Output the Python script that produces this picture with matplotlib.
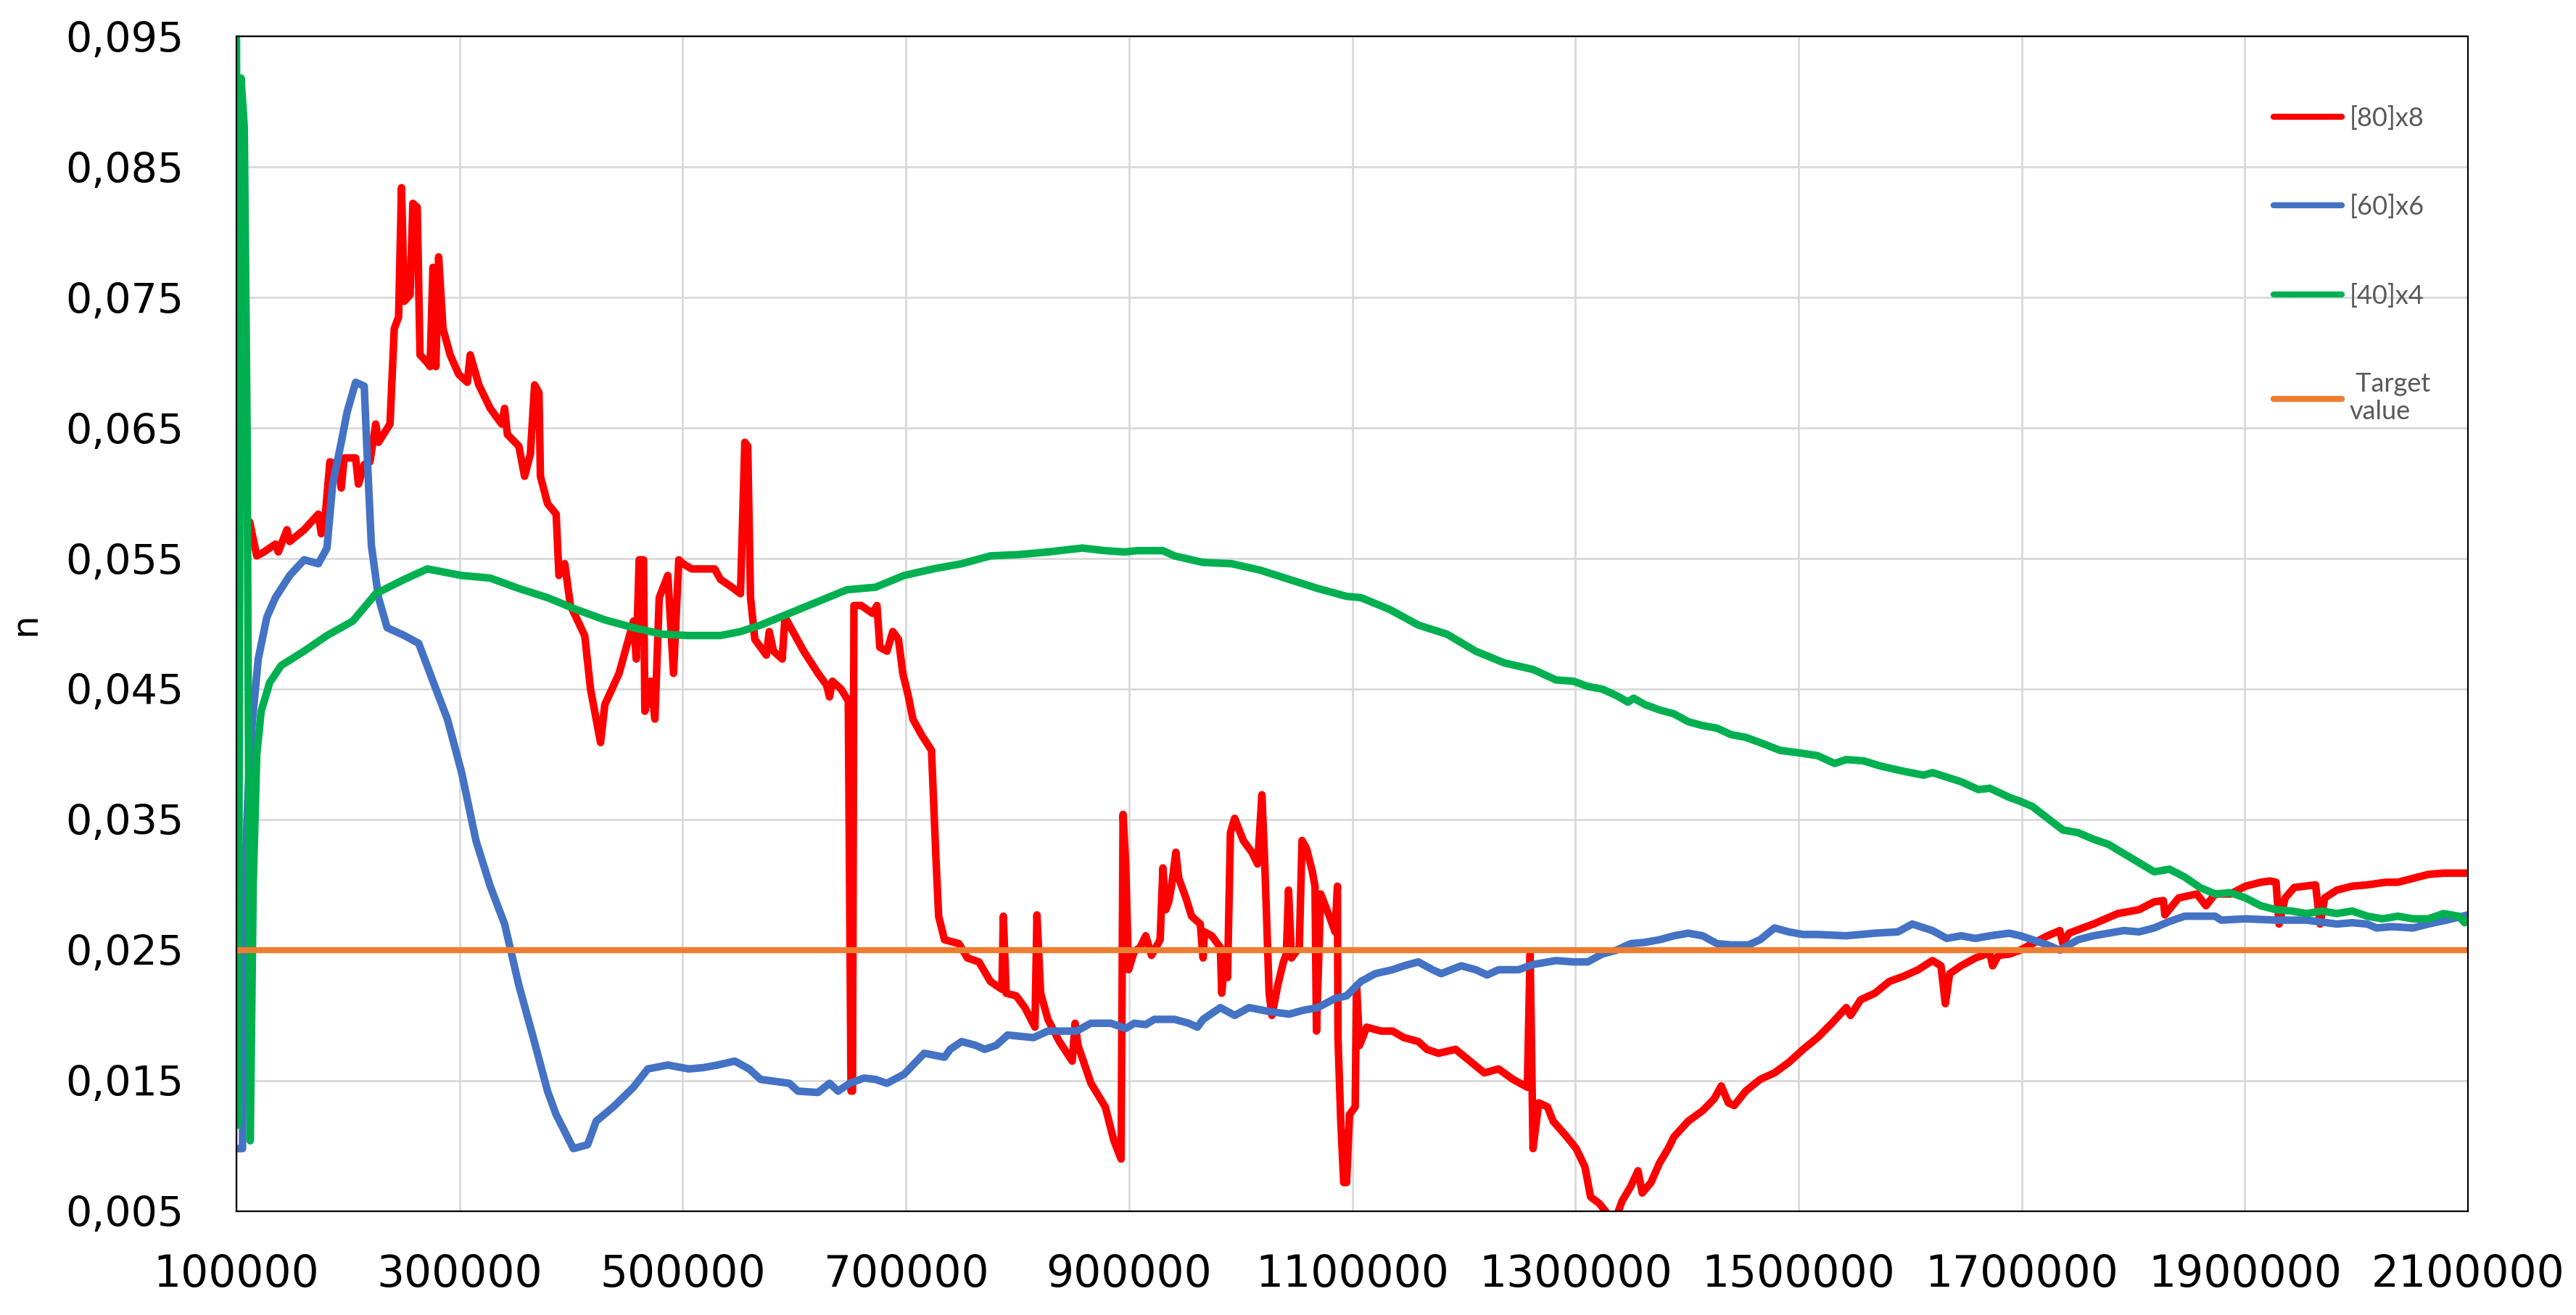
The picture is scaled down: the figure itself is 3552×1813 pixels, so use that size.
import matplotlib
matplotlib.use("Agg")
import matplotlib.pyplot as plt
from matplotlib.ticker import FuncFormatter

# values
red_x = [111800, 118200, 124600, 134900, 137500, 145200, 147700, 160600, 173400, 176000,
         178500, 183700, 191400, 193900, 196500, 206800, 209300, 214500, 219600, 224800,
         227300, 237600, 241400, 245300, 247900, 250400, 255600, 258100, 262000, 264500,
         271000, 273500, 276100, 278700, 281200, 285100, 291500, 299200, 306900, 309500,
         317200, 327400, 337700, 340300, 342800, 353100, 358200, 363400, 367200, 371100,
         372400, 378800, 386500, 389000, 394200, 399300, 412100, 417300, 426300, 430100,
         442900, 455800, 458300, 460900, 464800, 466000, 471200, 475000, 478900, 486600,
         491700, 496400, 500300, 508000, 518300, 528600, 533700, 544000, 551700, 555600,
         558200, 560700, 564600, 574900, 577500, 581300, 589100, 591600, 595500, 608400,
         621200, 628900, 631500, 634100, 641800, 648300, 650800, 652100, 653400, 659800,
         670100, 674000, 676600, 683000, 688200, 693300, 697200, 702300, 706200, 713900,
         722900, 726800, 729300, 734500, 747400, 755100, 765400, 775700, 786000, 787300,
         789800, 798800, 806600, 815600, 817400, 820700, 827200, 837500, 849000, 851600,
         854200, 865800, 878600, 886400, 892800, 894600, 896900, 899500, 904600, 909800,
         914900, 920100, 927800, 930300, 932900, 935500, 938000, 941900, 944500, 950900,
         956000, 963800, 966300, 967600, 974000, 981800, 983000, 985600, 988200, 990800,
         994600, 1002300, 1010000, 1015200, 1019000, 1021600, 1025500, 1028000, 1033200, 1038300,
         1040900, 1042900, 1045500, 1052500, 1055000, 1058900, 1064000, 1066600, 1067900, 1071700,
         1079500, 1084600, 1086700, 1087200, 1089700, 1092300, 1094900, 1097500, 1102600, 1103900,
         1106500, 1112900, 1125700, 1136000, 1146300, 1159200, 1166900, 1177200, 1192600, 1205400,
         1218300, 1231100, 1244000, 1256900, 1259400, 1262000, 1267100, 1274900, 1280000, 1292300,
         1300700, 1308500, 1313600, 1321300, 1331600, 1336800, 1341900, 1349600, 1356100, 1359900,
         1367700, 1375400, 1383100, 1388300, 1401100, 1414000, 1424300, 1430700, 1437100, 1442300,
         1452600, 1465500, 1478400, 1491200, 1504100, 1517000, 1529800, 1542700, 1546600, 1555600,
         1568400, 1581300, 1594200, 1607100, 1619900, 1627600, 1631500, 1635400, 1645700, 1658500,
         1671400, 1673900, 1679100, 1688900, 1698700, 1709600, 1723200, 1734100, 1736900, 1742300,
         1764200, 1786000, 1805100, 1818700, 1826900, 1828300, 1840600, 1856900, 1865100, 1873300,
         1886900, 1900600, 1914200, 1922400, 1927900, 1930600, 1936100, 1944200, 1963300, 1967400,
         1971500, 1982400, 1996100, 2009700, 2026100, 2037000, 2050700, 2064300, 2078000, 2100000]
red_y = [0.0578, 0.0552, 0.0555, 0.0561, 0.0555, 0.0572, 0.0563, 0.0572, 0.0584, 0.0569,
         0.0572, 0.0624, 0.0622, 0.0604, 0.0627, 0.0627, 0.0607, 0.0622, 0.0624, 0.0653,
         0.0639, 0.0653, 0.0726, 0.0735, 0.0834, 0.0747, 0.0752, 0.0822, 0.0819, 0.0706,
         0.0700, 0.0697, 0.0773, 0.0697, 0.0781, 0.0726, 0.0706, 0.0691, 0.0685, 0.0706,
         0.0683, 0.0665, 0.0653, 0.0665, 0.0645, 0.0636, 0.0613, 0.0630, 0.0683, 0.0677,
         0.0613, 0.0592, 0.0584, 0.0537, 0.0546, 0.0514, 0.0491, 0.0450, 0.0409, 0.0438,
         0.0462, 0.0502, 0.0473, 0.0549, 0.0549, 0.0433, 0.0456, 0.0427, 0.0520, 0.0537,
         0.0462, 0.0549, 0.0546, 0.0542, 0.0542, 0.0542, 0.0534, 0.0528, 0.0523, 0.0639,
         0.0636, 0.0520, 0.0488, 0.0476, 0.0494, 0.0479, 0.0473, 0.0505, 0.0499, 0.0479,
         0.0462, 0.0453, 0.0444, 0.0456, 0.0450, 0.0441, 0.0142, 0.0142, 0.0514, 0.0514,
         0.0508, 0.0514, 0.0482, 0.0479, 0.0494, 0.0488, 0.0462, 0.0444, 0.0427, 0.0415,
         0.0403, 0.0322, 0.0276, 0.0258, 0.0255, 0.0244, 0.0241, 0.0226, 0.0220, 0.0276,
         0.0217, 0.0215, 0.0206, 0.0191, 0.0277, 0.0217, 0.0197, 0.0180, 0.0165, 0.0194,
         0.0177, 0.0148, 0.0130, 0.0104, 0.0090, 0.0354, 0.0316, 0.0235, 0.0249, 0.0252,
         0.0261, 0.0246, 0.0258, 0.0313, 0.0281, 0.0287, 0.0299, 0.0325, 0.0305, 0.0290,
         0.0276, 0.0270, 0.0244, 0.0264, 0.0261, 0.0252, 0.0217, 0.0241, 0.0229, 0.0340,
         0.0351, 0.0334, 0.0325, 0.0316, 0.0369, 0.0316, 0.0217, 0.0200, 0.0223, 0.0241,
         0.0247, 0.0296, 0.0244, 0.0252, 0.0334, 0.0328, 0.0311, 0.0299, 0.0188, 0.0293,
         0.0276, 0.0264, 0.0299, 0.0183, 0.0119, 0.0072, 0.0072, 0.0124, 0.0130, 0.0223,
         0.0177, 0.0191, 0.0188, 0.0188, 0.0183, 0.0180, 0.0174, 0.0171, 0.0174, 0.0165,
         0.0156, 0.0159, 0.0151, 0.0145, 0.0247, 0.0098, 0.0133, 0.0130, 0.0119, 0.0107,
         0.0098, 0.0084, 0.0061, 0.0056, 0.0045, 0.0046, 0.0058, 0.0069, 0.0081, 0.0064,
         0.0072, 0.0087, 0.0098, 0.0107, 0.0119, 0.0127, 0.0136, 0.0146, 0.0133, 0.0131,
         0.0142, 0.0151, 0.0156, 0.0164, 0.0174, 0.0183, 0.0194, 0.0206, 0.0200, 0.0212,
         0.0217, 0.0226, 0.0230, 0.0235, 0.0242, 0.0238, 0.0209, 0.0232, 0.0238, 0.0244,
         0.0248, 0.0238, 0.0246, 0.0247, 0.0250, 0.0255, 0.0261, 0.0265, 0.0255, 0.0263,
         0.0270, 0.0278, 0.0281, 0.0287, 0.0288, 0.0277, 0.0290, 0.0293, 0.0284, 0.0293,
         0.0293, 0.0299, 0.0302, 0.0303, 0.0302, 0.0270, 0.0290, 0.0298, 0.0300, 0.0270,
         0.0290, 0.0296, 0.0299, 0.0300, 0.0302, 0.0302, 0.0305, 0.0308, 0.0309, 0.0309]

blue_x = [100000, 105400, 106700, 110500, 114400, 119500, 127200, 134900, 147700, 160600,
          173400, 181100, 186200, 193900, 199100, 206800, 214500, 217100, 220900, 227300,
          235000, 250400, 263300, 276100, 289000, 301800, 314600, 327400, 340300, 353100,
          366000, 378800, 386500, 401900, 414700, 422400, 437800, 455800, 468600, 486600,
          505400, 518200, 531100, 546600, 559400, 569700, 595500, 603200, 621200, 631500,
          639200, 649500, 662400, 672700, 683000, 698400, 716400, 734500, 739600, 749900,
          762800, 770500, 780800, 791100, 814300, 827100, 852900, 865700, 883800, 896900,
          904600, 914900, 922600, 940600, 953500, 961200, 966300, 981800, 994600, 1007500,
          1025500, 1043500, 1056300, 1069200, 1084600, 1094900, 1107700, 1120600, 1136000, 1146300,
          1159200, 1172000, 1179700, 1197700, 1210600, 1220900, 1231100, 1249100, 1262000, 1282600,
          1298200, 1311000, 1323900, 1336800, 1349600, 1362500, 1375400, 1388300, 1401100, 1414000,
          1426900, 1439700, 1455200, 1465500, 1478400, 1491200, 1504100, 1517000, 1542700, 1568400,
          1589000, 1601900, 1619900, 1632800, 1645700, 1658500, 1671400, 1688900, 1698700, 1709600,
          1723200, 1734100, 1750500, 1764200, 1791400, 1805100, 1818700, 1832400, 1846000, 1873300,
          1878800, 1900600, 1927900, 1955200, 1982400, 1996100, 2009700, 2017900, 2031600, 2050700,
          2064300, 2080700, 2100000]
blue_y = [0.0098, 0.0098, 0.0287, 0.0374, 0.0427, 0.0473, 0.0505, 0.0520, 0.0537, 0.0549,
          0.0546, 0.0558, 0.0607, 0.0639, 0.0662, 0.0685, 0.0682, 0.0630, 0.0560, 0.0520,
          0.0497, 0.0491, 0.0485, 0.0456, 0.0427, 0.0386, 0.0334, 0.0299, 0.0270, 0.0223,
          0.0183, 0.0142, 0.0124, 0.0098, 0.0101, 0.0119, 0.0130, 0.0145, 0.0159, 0.0162,
          0.0159, 0.0160, 0.0162, 0.0165, 0.0159, 0.0151, 0.0148, 0.0142, 0.0141, 0.0148,
          0.0142, 0.0148, 0.0152, 0.0151, 0.0148, 0.0155, 0.0171, 0.0168, 0.0174, 0.0180,
          0.0177, 0.0174, 0.0177, 0.0185, 0.0183, 0.0188, 0.0188, 0.0194, 0.0194, 0.0190,
          0.0194, 0.0193, 0.0197, 0.0197, 0.0194, 0.0191, 0.0197, 0.0206, 0.0200, 0.0206,
          0.0203, 0.0201, 0.0204, 0.0206, 0.0213, 0.0215, 0.0226, 0.0232, 0.0235, 0.0238,
          0.0241, 0.0235, 0.0232, 0.0238, 0.0235, 0.0231, 0.0235, 0.0235, 0.0239, 0.0242,
          0.0241, 0.0241, 0.0247, 0.0250, 0.0255, 0.0256, 0.0258, 0.0261, 0.0263, 0.0261,
          0.0255, 0.0254, 0.0254, 0.0258, 0.0267, 0.0264, 0.0262, 0.0262, 0.0261, 0.0263,
          0.0264, 0.0270, 0.0265, 0.0259, 0.0261, 0.0259, 0.0261, 0.0263, 0.0261, 0.0258,
          0.0254, 0.0250, 0.0258, 0.0261, 0.0265, 0.0264, 0.0267, 0.0272, 0.0276, 0.0276,
          0.0273, 0.0274, 0.0273, 0.0273, 0.0270, 0.0271, 0.0270, 0.0267, 0.0268, 0.0267,
          0.0270, 0.0273, 0.0277]

green_x = [100000, 101500, 104100, 107000, 109500, 112300, 115000, 118200, 122100, 129800,
           140000, 160600, 181100, 204200, 224800, 250400, 271000, 301800, 327400, 353100,
           378800, 404400, 430100, 455800, 481500, 505400, 523400, 533700, 551700, 569700,
           595500, 621200, 646900, 672700, 698400, 724200, 749900, 775600, 801400, 827100,
           858000, 878600, 896000, 907200, 930300, 940600, 966300, 992000, 1017800, 1043500,
           1069200, 1094900, 1107800, 1133400, 1159200, 1184900, 1210600, 1236300, 1262000, 1282600,
           1298200, 1311000, 1323900, 1336800, 1347100, 1352200, 1362500, 1375400, 1388300, 1401100,
           1414000, 1426900, 1439700, 1452600, 1465500, 1483500, 1501500, 1517000, 1532400, 1542700,
           1558100, 1573600, 1594200, 1612200, 1619900, 1645700, 1661100, 1671400, 1688900, 1698700,
           1709600, 1723200, 1736900, 1750500, 1764200, 1777800, 1791400, 1805100, 1818700, 1832400,
           1846000, 1859700, 1873300, 1886900, 1900600, 1914200, 1927900, 1941500, 1955200, 1968800,
           1982400, 1996100, 2009700, 2023400, 2037000, 2050700, 2064300, 2078000, 2091600, 2097000,
           2100000]
green_y = [0.0950, 0.0116, 0.0918, 0.0880, 0.0650, 0.0104, 0.0300, 0.0400, 0.0433, 0.0455,
           0.0468, 0.0479, 0.0491, 0.0502, 0.0523, 0.0534, 0.0542, 0.0537, 0.0535, 0.0527,
           0.0520, 0.0511, 0.0503, 0.0497, 0.0492, 0.0491, 0.0491, 0.0491, 0.0494, 0.0499,
           0.0508, 0.0517, 0.0526, 0.0528, 0.0537, 0.0542, 0.0546, 0.0552, 0.0553, 0.0555,
           0.0558, 0.0556, 0.0555, 0.0556, 0.0556, 0.0552, 0.0547, 0.0546, 0.0541, 0.0534,
           0.0527, 0.0521, 0.0520, 0.0511, 0.0499, 0.0492, 0.0479, 0.0470, 0.0465, 0.0457,
           0.0456, 0.0452, 0.0450, 0.0445, 0.0440, 0.0443, 0.0438, 0.0434, 0.0431, 0.0425,
           0.0422, 0.0420, 0.0415, 0.0413, 0.0409, 0.0403, 0.0401, 0.0399, 0.0393, 0.0396,
           0.0395, 0.0391, 0.0387, 0.0384, 0.0386, 0.0379, 0.0373, 0.0374, 0.0367, 0.0364,
           0.0360, 0.0351, 0.0342, 0.0340, 0.0335, 0.0331, 0.0324, 0.0317, 0.0310, 0.0312,
           0.0306, 0.0298, 0.0293, 0.0294, 0.0290, 0.0284, 0.0281, 0.0280, 0.0278, 0.0280,
           0.0278, 0.0280, 0.0276, 0.0274, 0.0276, 0.0274, 0.0274, 0.0278, 0.0276, 0.0271,
           0.0273]

target_x = [100000, 2100000]
target_y = [0.025, 0.025]

labels = ["[80]x8", "[60]x6", "[40]x4", " Target\nvalue"]
colors = ["#FF0000", "#4472C4", "#00B050", "#ED7D31"]
widths = [7.5, 7.5, 7.5, 6]

xticks = list(range(100000, 2100001, 200000))
yticks = [0.005, 0.015, 0.025, 0.035, 0.045, 0.055, 0.065, 0.075, 0.085, 0.095]

fig = plt.figure(figsize=(35.52, 18.13), dpi=100)
ax = fig.add_axes([0.0918, 0.0789, 0.8663, 0.8935])

series = [(red_x, red_y), (blue_x, blue_y), (green_x, green_y), (target_x, target_y)]
for (xs, ys), lab, col, w in zip(series, labels, colors, widths):
    ax.plot(xs, ys, color=col, lw=w, label=lab,
            solid_joinstyle="round", solid_capstyle="round")

ax.set_xlim(100000, 2100000)
ax.set_ylim(0.005, 0.095)
ax.set_xticks(xticks)
ax.set_yticks(yticks)
ax.xaxis.set_major_formatter(FuncFormatter(lambda v, p: "%d" % v))
ax.yaxis.set_major_formatter(FuncFormatter(lambda v, p: ("%.3f" % v).replace(".", ",")))
ax.tick_params(axis="both", length=0, colors="black")
ax.tick_params(axis="y", pad=52, labelsize=41)
ax.tick_params(axis="x", pad=42, labelsize=43)

ax.grid(True, color="#D9D9D9", lw=2)
ax.set_axisbelow(True)
for s in ax.spines.values():
    s.set_color("black")
    s.set_linewidth(1.6)

ax.set_ylabel("n", fontsize=36, rotation=90)
ax.yaxis.set_label_coords(-0.087, 0.5)

leg = ax.legend(loc="upper left", bbox_to_anchor=(0.913, 0.941), frameon=False,
                borderpad=0, borderaxespad=0, handlelength=2.6, handletextpad=0.28,
                labelspacing=2.45, prop={"family": ["Lato", "DejaVu Sans"], "size": 26})
for t in leg.get_texts():
    t.set_color("#595959")
for h in leg.get_lines():
    h.set_linewidth(6)

fig.savefig("out.png", dpi=100)
